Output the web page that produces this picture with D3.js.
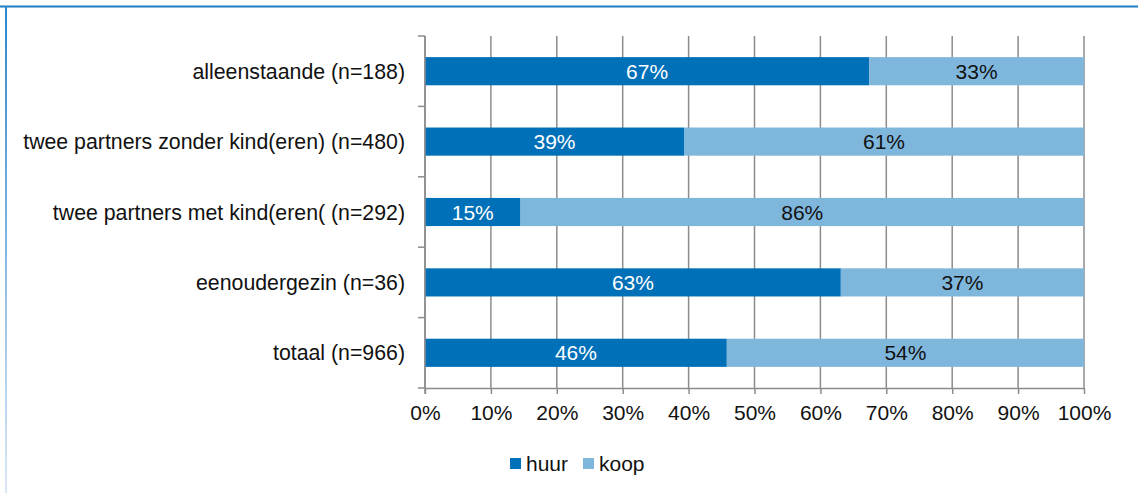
<!DOCTYPE html>
<html>
<head>
<meta charset="utf-8">
<script src="https://cdn.jsdelivr.net/npm/d3@7"></script>
<style>
  html, body { margin: 0; padding: 0; background: #fff; }
  svg { display: block; font-family: "Liberation Sans", Arial, sans-serif; }
</style>
</head>
<body>
<svg id="chart" width="1138" height="493"></svg>
<script>
// Household types and tenure shares (percent)
const categories = [
  "alleenstaande (n=188)",
  "twee partners zonder kind(eren) (n=480)",
  "twee partners met kind(eren( (n=292)",
  "eenoudergezin (n=36)",
  "totaal (n=966)"
];
const huur = [67.4, 39.3, 14.5, 63.1, 45.8];
const koop = [32.6, 60.7, 85.5, 36.9, 54.2];
const seriesNames = ["huur", "koop"];
const xTicks = [0, 10, 20, 30, 40, 50, 60, 70, 80, 90, 100];

const colors = { huur: "#0070B8", koop: "#7FB6DC" };
const FS = 21;
const FS_CAT = 21.3;

const svg = d3.select("#chart");
const W = 1138, H = 493;

// Frame: blue top rule and fading left edge
const defs = svg.append("defs");
const grad = defs.append("linearGradient")
  .attr("id", "edgeFade").attr("x1", 0).attr("y1", 0).attr("x2", 0).attr("y2", 1);
grad.append("stop").attr("offset", "0%").attr("stop-color", "#2C86CC");
grad.append("stop").attr("offset", "100%").attr("stop-color", "#DCE8F6");

svg.append("rect").attr("x", 0).attr("y", 5.5).attr("width", W).attr("height", 2).attr("fill", "#1F7DC6");
svg.append("rect").attr("x", 5).attr("y", 6).attr("width", 2).attr("height", H - 6).attr("fill", "url(#edgeFade)");

const margin = { left: 425, right: 1084, top: 36, bottom: 388 };

const x = d3.scaleLinear().domain([0, 100]).range([margin.left, margin.right]);
const y = d3.scaleBand().domain(categories).range([margin.top, margin.bottom]).paddingInner(0.6).paddingOuter(0.3);

const rows = categories.map((c, i) => ({ cat: c, huur: huur[i], koop: koop[i] }));
const stack = d3.stack().keys(seriesNames)(rows);

// Vertical gridlines
svg.append("g")
  .selectAll("line")
  .data(xTicks)
  .join("line")
  .attr("x1", d => x(d)).attr("x2", d => x(d))
  .attr("y1", margin.top).attr("y2", margin.bottom)
  .attr("stroke", "#8C8C8C").attr("stroke-width", 1.5);

// Stacked bars
const layers = svg.append("g").selectAll("g")
  .data(stack)
  .join("g")
  .attr("fill", d => colors[d.key]);

layers.selectAll("rect")
  .data(d => d)
  .join("rect")
  .attr("x", d => x(d[0]))
  .attr("width", d => x(d[1]) - x(d[0]))
  .attr("y", d => y(d.data.cat))
  .attr("height", y.bandwidth());

// Value labels
const fmt = d3.format(".0f");
stack.forEach(layer => {
  svg.append("g").selectAll("text")
    .data(layer)
    .join("text")
    .attr("x", d => (x(d[0]) + x(d[1])) / 2)
    .attr("y", d => y(d.data.cat) + y.bandwidth() / 2)
    .attr("dy", "0.36em")
    .attr("text-anchor", "middle")
    .attr("font-size", FS)
    .attr("fill", layer.key === "huur" ? "#fff" : "#111")
    .text(d => fmt(d.data[layer.key]) + "%");
});

// Y axis with ticks at band boundaries
const step = y.step();
const yAxisG = svg.append("g");
yAxisG.append("line")
  .attr("x1", margin.left).attr("x2", margin.left)
  .attr("y1", margin.top).attr("y2", margin.bottom + 6)
  .attr("stroke", "#8C8C8C").attr("stroke-width", 1.5);
yAxisG.selectAll("line.tk")
  .data(d3.range(categories.length + 1))
  .join("line")
  .attr("class", "tk")
  .attr("x1", margin.left - 7).attr("x2", margin.left)
  .attr("y1", i => margin.top + i * step).attr("y2", i => margin.top + i * step)
  .attr("stroke", "#8C8C8C").attr("stroke-width", 1.5);
yAxisG.selectAll("text")
  .data(categories)
  .join("text")
  .attr("x", 405)
  .attr("y", d => y(d) + y.bandwidth() / 2)
  .attr("dy", "0.36em")
  .attr("text-anchor", "end")
  .attr("font-size", FS_CAT)
  .attr("fill", "#111")
  .text(d => d);

// X axis
const xAxis = d3.axisBottom(x)
  .tickValues(xTicks)
  .tickSize(6)
  .tickSizeOuter(0)
  .tickPadding(11)
  .tickFormat(d => d + "%");
const xg = svg.append("g")
  .attr("transform", `translate(0,${margin.bottom})`)
  .call(xAxis);
xg.select(".domain").attr("stroke", "#8C8C8C").attr("stroke-width", 1.5);
xg.selectAll(".tick line").attr("stroke", "#8C8C8C").attr("stroke-width", 1.5);
xg.selectAll(".tick text")
  .attr("font-size", FS)
  .attr("font-family", "Liberation Sans, Arial, sans-serif")
  .attr("fill", "#111");

// Legend
const legendX = [510, 583];
const legend = svg.append("g");
seriesNames.forEach((s, i) => {
  legend.append("rect")
    .attr("x", legendX[i]).attr("y", 458)
    .attr("width", 11).attr("height", 11)
    .attr("fill", colors[s]);
  legend.append("text")
    .attr("x", legendX[i] + 16).attr("y", 463.5)
    .attr("dy", "0.36em")
    .attr("font-size", FS)
    .attr("fill", "#111")
    .text(s);
});
</script>
</body>
</html>
